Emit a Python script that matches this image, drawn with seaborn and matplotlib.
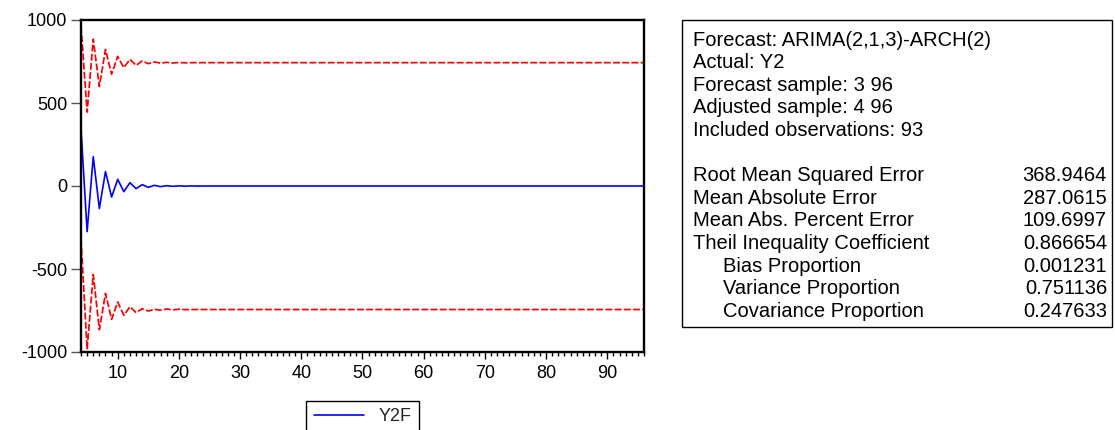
import matplotlib
matplotlib.use("Agg")
import matplotlib.pyplot as plt
import pandas as pd
import seaborn as sns
from matplotlib.patches import Rectangle
from matplotlib.ticker import MultipleLocator

# Observations 4..96 of the forecast sample
obs = list(range(4, 97))

# Point forecast Y2F
y2f = [
    345, -275, 177, -136, 87, -66, 40, -34, 20, -16,
    8, -8, 4, -4, 2, -2, 1, -1, 0.5, -0.5,
    0, 0, 0, 0, 0, 0, 0, 0, 0, 0,
    0, 0, 0, 0, 0, 0, 0, 0, 0, 0,
    0, 0, 0, 0, 0, 0, 0, 0, 0, 0,
    0, 0, 0, 0, 0, 0, 0, 0, 0, 0,
    0, 0, 0, 0, 0, 0, 0, 0, 0, 0,
    0, 0, 0, 0, 0, 0, 0, 0, 0, 0,
    0, 0, 0, 0, 0, 0, 0, 0, 0, 0,
    0, 0, 0,
]

# Upper band (forecast + 2 S.E.)
upper = [
    964, 445, 884, 599, 823, 673, 781, 713, 763, 727,
    753, 737, 747, 740, 745, 741, 744, 742,
    743, 743, 743, 743, 743, 743, 743, 743, 743, 743,
    743, 743, 743, 743, 743, 743, 743, 743, 743, 743,
    743, 743, 743, 743, 743, 743, 743, 743, 743, 743,
    743, 743, 743, 743, 743, 743, 743, 743, 743, 743,
    743, 743, 743, 743, 743, 743, 743, 743, 743, 743,
    743, 743, 743, 743, 743, 743, 743, 743, 743, 743,
    743, 743, 743, 743, 743, 743, 743, 743, 743, 743,
    743, 743, 743, 743, 743,
]

# Lower band (forecast - 2 S.E.)
lower = [
    -320, -984, -533, -866, -647, -803, -699, -779, -727, -763,
    -739, -753, -743, -748, -741, -746, -742, -745,
    -744, -744, -744, -744, -744, -744, -744, -744, -744, -744,
    -744, -744, -744, -744, -744, -744, -744, -744, -744, -744,
    -744, -744, -744, -744, -744, -744, -744, -744, -744, -744,
    -744, -744, -744, -744, -744, -744, -744, -744, -744, -744,
    -744, -744, -744, -744, -744, -744, -744, -744, -744, -744,
    -744, -744, -744, -744, -744, -744, -744, -744, -744, -744,
    -744, -744, -744, -744, -744, -744, -744, -744, -744, -744,
    -744, -744, -744, -744, -744,
]

y_ticks = [-1000, -500, 0, 500, 1000]
x_ticks = [10, 20, 30, 40, 50, 60, 70, 80, 90]

header_lines = [
    "Forecast: ARIMA(2,1,3)-ARCH(2)",
    "Actual: Y2",
    "Forecast sample: 3 96",
    "Adjusted sample: 4 96",
    "Included observations: 93",
]
stat_labels = [
    "Root Mean Squared Error",
    "Mean Absolute Error",
    "Mean Abs. Percent Error",
    "Theil Inequality Coefficient",
    "Bias Proportion",
    "Variance Proportion",
    "Covariance Proportion",
]
stat_indented = [False, False, False, False, True, True, True]
stat_values = ["368.9464", "287.0615", "109.6997", "0.866654", "0.001231", "0.751136", "0.247633"]

sns.set_theme(style="white")
plt.rcParams["font.family"] = ["Liberation Sans", "DejaVu Sans"]

W, H = 1115, 430
fig = plt.figure(figsize=(W / 100, H / 100), dpi=100)
fig.patch.set_facecolor("white")
ax = fig.add_axes([81 / W, 1 - 352 / H, 563 / W, 332 / H])

df = pd.DataFrame({"obs": obs, "Y2F": y2f, "upper": upper, "lower": lower})
dash = (0, (4, 1.3))
sns.lineplot(data=df, x="obs", y="upper", ax=ax, color="red", lw=1.25,
             linestyle=dash, legend=False)
sns.lineplot(data=df, x="obs", y="lower", ax=ax, color="red", lw=1.25,
             linestyle=dash, legend=False)
sns.lineplot(data=df, x="obs", y="Y2F", ax=ax, color="blue", lw=1.2, label="Y2F")

ax.set_xlim(4, 96)
ax.set_ylim(-1000, 1000)
ax.set_xlabel("")
ax.set_ylabel("")
ax.set_xticks(x_ticks)
ax.set_yticks(y_ticks)
ax.set_yticklabels([str(v) for v in y_ticks])
ax.xaxis.set_minor_locator(MultipleLocator(1))
ax.grid(False)
for sp in ax.spines.values():
    sp.set_visible(True)
    sp.set_color("black")
    sp.set_linewidth(1.7)

ax.tick_params(axis="x", which="major", bottom=True, top=False, direction="out",
               length=5, width=1, color="black", labelsize=13, pad=4, labelcolor="black")
ax.tick_params(axis="x", which="minor", bottom=True, top=False, direction="out",
               length=3, width=1, color="black")
ax.tick_params(axis="y", which="major", left=True, right=False, direction="out",
               length=7, width=1, color="#555555", labelsize=13, pad=3, labelcolor="black")

# Legend under the plot
handles, labels = ax.get_legend_handles_labels()
if ax.get_legend() is not None:
    ax.get_legend().remove()
leg = fig.legend(handles, labels, loc="upper center",
                 bbox_to_anchor=(362.5 / W, 1 - 401 / H), frameon=True, fancybox=False,
                 edgecolor="black", framealpha=1, fontsize=13, handlelength=2.8,
                 borderpad=0.4, borderaxespad=0)
leg.get_frame().set_linewidth(1)

# Forecast evaluation table
box = Rectangle((682 / W, 1 - 327 / H), (1112 - 682) / W, (327 - 20) / H,
                transform=fig.transFigure, fill=False, edgecolor="black", lw=1)
fig.add_artist(box)

line_step = 22.6
first_line = 40
for i, line in enumerate(header_lines):
    y = first_line + line_step * i
    fig.text(693 / W, 1 - y / H, line, ha="left", va="center", fontsize=14.5, color="black")
for j, (lab, ind, val) in enumerate(zip(stat_labels, stat_indented, stat_values)):
    y = first_line + line_step * (j + len(header_lines) + 1)
    x = 723 if ind else 693
    fig.text(x / W, 1 - y / H, lab, ha="left", va="center", fontsize=14.5, color="black")
    fig.text(1107 / W, 1 - y / H, val, ha="right", va="center", fontsize=14.5, color="black")

fig.savefig("out.png", dpi=100)
